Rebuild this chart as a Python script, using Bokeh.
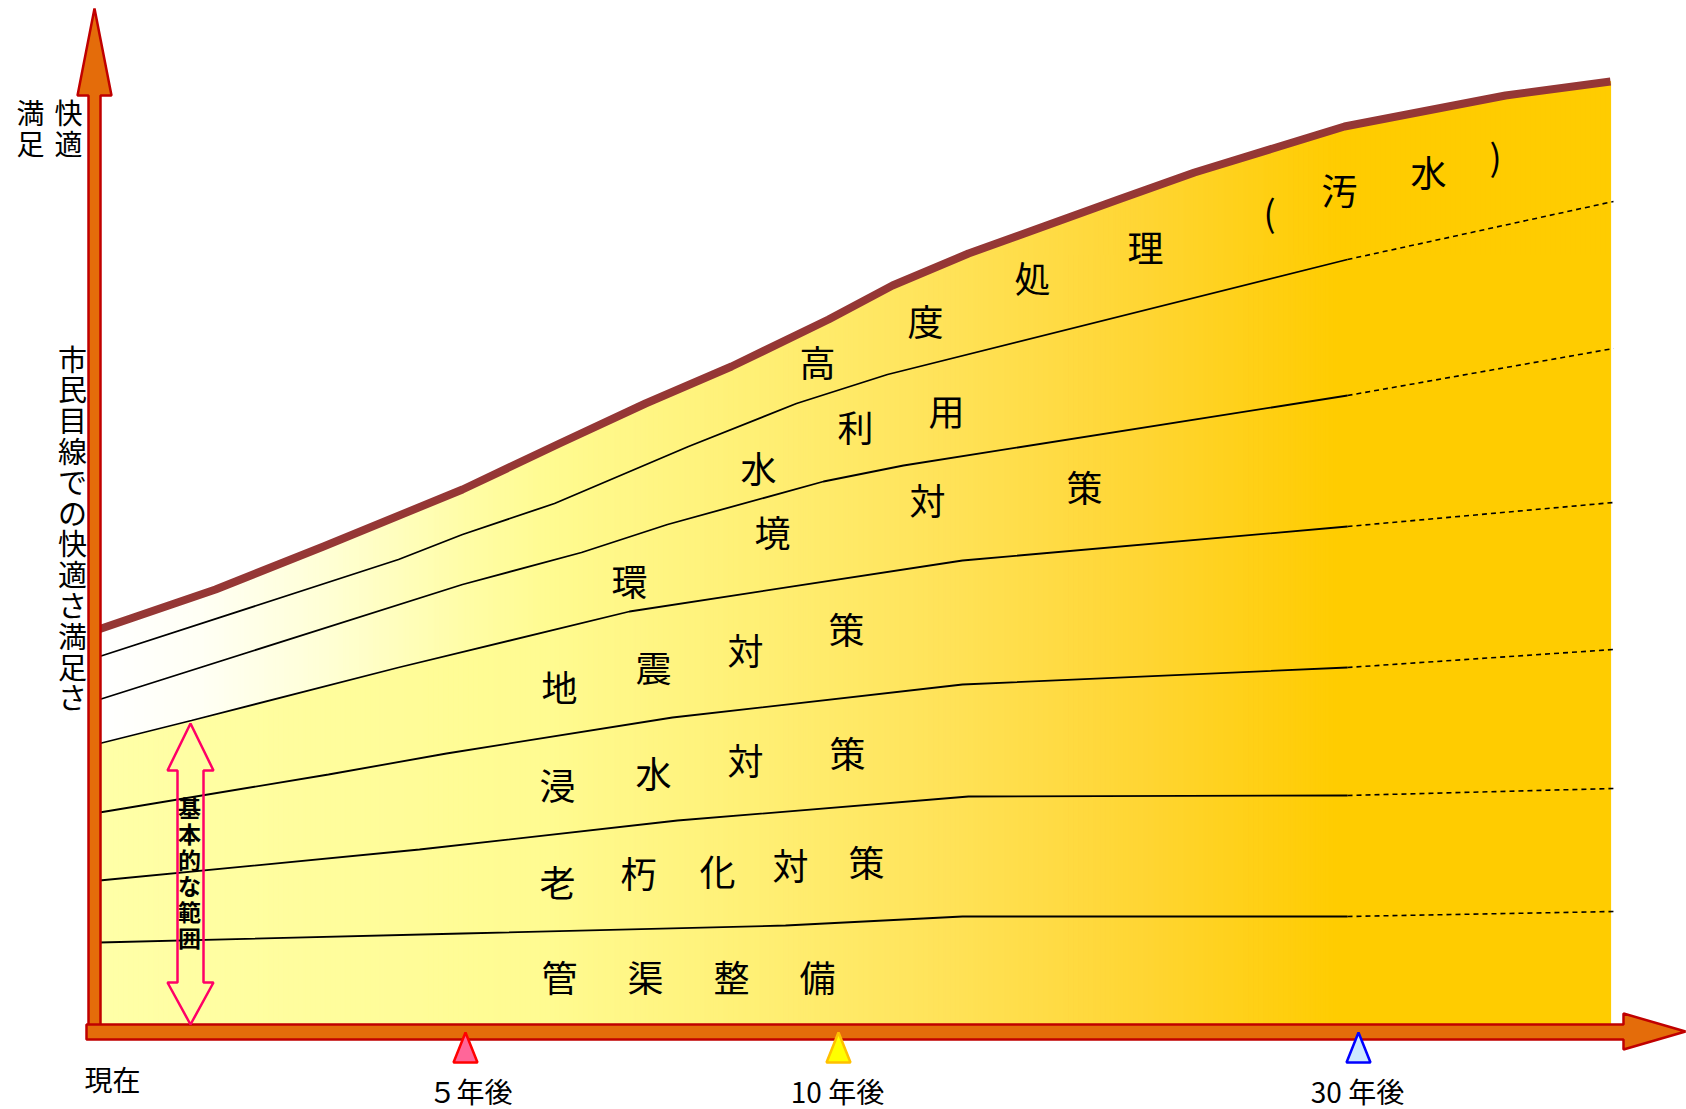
import numpy as np
from bokeh.plotting import figure
from bokeh.models import Range1d
from bokeh.embed import file_html
from bokeh.resources import INLINE
from bokeh.core.properties import value

W, H = 1686, 1109
FONT = "Noto Sans CJK JP"

# ---------------- data: boundary curves (canvas units, y grows downward) -------------
top_x = [92, 215, 323, 462, 559, 645, 731, 828, 892, 968, 1118, 1194, 1344, 1505, 1610]
top_y = [631, 589, 546, 489, 443, 403, 366, 319, 285, 253, 199, 172, 126, 95, 81]

line1_x = [99, 398, 462, 554, 688, 796, 887, 1347, 1613]
line1_y = [656, 559, 534, 503, 446, 403, 374, 259, 201]
line2_x = [99, 462, 581, 667, 823, 903, 1347, 1613]
line2_y = [699, 584, 552, 524, 481, 465, 395, 348]
line3_x = [99, 191, 398, 629, 962, 1347, 1613]
line3_y = [743, 720, 667, 611, 560, 526, 502]
line4_x = [99, 328, 446, 672, 962, 1347, 1613]
line4_y = [812, 774, 753, 717, 684, 667, 649]
line5_x = [99, 419, 677, 968, 1347, 1613]
line5_y = [880, 849, 820, 796, 795, 788]
line6_x = [99, 462, 785, 962, 1347, 1613]
line6_y = [942, 933, 925, 916, 916, 911]
band_lines = [(line1_x, line1_y), (line2_x, line2_y), (line3_x, line3_y),
              (line4_x, line4_y), (line5_x, line5_y), (line6_x, line6_y)]

time_ticks = ["現在", "５年後", "10 年後", "30 年後"]
band_names = ["高度処理(汚水)", "水利用", "環境対策", "地震対策", "浸水対策", "老朽化対策", "管渠整備"]

# ---------------- layout constants ----------------
X0, X1 = 99, 1610       # fill extent
BASE = 1024             # bottom of fill
SOLID_END = 1347

p = figure(width=W, height=H, x_range=Range1d(0, W), y_range=Range1d(H, 0),
           output_backend="svg", toolbar_location=None, min_border=0,
           x_axis_type=None, y_axis_type=None)
p.grid.visible = False
p.outline_line_color = None
p.background_fill_color = "white"
p.border_fill_color = "white"

# ---------------- gradient fill ----------------
def interp_color(x, stops):
    sx = [s[0] for s in stops]
    r = np.interp(x, sx, [s[1][0] for s in stops])
    g = np.interp(x, sx, [s[1][1] for s in stops])
    b = np.interp(x, sx, [s[1][2] for s in stops])
    return "#%02x%02x%02x" % (int(round(r)), int(round(g)), int(round(b)))

lower_stops = [(99, (255, 255, 168)), (550, (255, 251, 145)), (750, (255, 240, 118)),
               (950, (255, 226, 88)), (1150, (255, 213, 50)), (1340, (255, 204, 0)),
               (1700, (255, 204, 0))]
upper_stops = [(99, (255, 255, 255)), (200, (255, 255, 245)), (320, (255, 255, 215)),
               (470, (255, 253, 165)), (550, (255, 251, 145)), (750, (255, 240, 118)),
               (950, (255, 226, 88)), (1150, (255, 213, 50)), (1340, (255, 204, 0)),
               (1700, (255, 204, 0))]

edges = np.append(np.arange(X0, X1, 5), X1).astype(float)
xs_l, ys_l, cs = [], [], []
for i in range(len(edges) - 1):
    a, b = edges[i], edges[i + 1]
    m = 0.5 * (a + b)
    ya_top, yb_top = np.interp([a, b], top_x, top_y)
    ya_mid, yb_mid = np.interp([a, b], line3_x, line3_y)
    xs_l.append([a, b, b, a]); ys_l.append([BASE, BASE, yb_mid, ya_mid])
    cs.append(interp_color(m, lower_stops))
    xs_l.append([a, b, b, a]); ys_l.append([ya_mid, yb_mid, yb_top, ya_top])
    cs.append(interp_color(m, upper_stops))
p.patches(xs_l, ys_l, fill_color=cs, line_color=cs, line_width=1.2)

# ---------------- band lines ----------------
for lx, ly in band_lines:
    lx = np.array(lx, float); ly = np.array(ly, float)
    solid = lx <= SOLID_END
    p.line(lx[solid], ly[solid], line_color="black", line_width=1.8)
    p.line(lx[-2:], ly[-2:], line_color="black", line_width=1.6, line_dash="5 4")

# top (brown) line
p.line(top_x, top_y, line_color="#953735", line_width=8, line_join="round")

# ---------------- axes arrows ----------------
vx = [88, 100, 100, 111, 94, 77, 88]
vy = [1038, 1038, 95, 95, 8, 95, 95]
p.patch(vx, vy, fill_color="#E46C0A", line_color="#C00000", line_width=2.5)
hx = [86, 1623, 1623, 1685, 1623, 1623, 86]
hy = [1024, 1024, 1013, 1031, 1049, 1039, 1039]
p.patch(hx, hy, fill_color="#E46C0A", line_color="#C00000", line_width=2.5)

# ---------------- time markers ----------------
tick_x = [465, 838, 1358]
tick_fill = ["#FF6699", "#FFFF00", "#CCE8FF"]
tick_line = ["#FF0000", "#FFC000", "#0000FF"]
for tx, fc, lc in zip(tick_x, tick_fill, tick_line):
    p.patch([tx - 12, tx, tx + 12], [1062, 1032, 1062], fill_color=fc, line_color=lc, line_width=2.5)

p.text(x=[112, 470, 837, 1357], y=[1078, 1090, 1090, 1090], text=time_ticks,
       text_font=value(FONT), text_font_size="28px", text_align="center",
       text_baseline="middle", text_color="black")

# ---------------- left axis labels ----------------
p.text(x=[30, 30, 68, 68], y=[111, 142, 111, 142], text=["満", "足", "快", "適"],
       text_font=value(FONT), text_font_size="28px", text_align="center",
       text_baseline="middle", text_color="black")
vt = list("市民目線での快適さ満足さ")
p.text(x=[72] * len(vt), y=[357 + 30.8 * i for i in range(len(vt))], text=vt,
       text_font=value(FONT), text_font_size="29px", text_align="center",
       text_baseline="middle", text_color="black")

# ---------------- basic range double arrow ----------------
ax_ = [190, 213, 203, 203, 213, 190, 167, 177, 177, 167, 190]
ay_ = [723, 770, 770, 982, 982, 1024, 982, 982, 770, 770, 723]
p.patch(ax_, ay_, fill_color=None, line_color="#FF0066", line_width=2.5)
bt = list("基本的な範囲")
p.text(x=[189] * len(bt), y=[806 + 26 * i for i in range(len(bt))], text=bt,
       text_font=value(FONT), text_font_size="23px", text_font_style="bold",
       text_align="center", text_baseline="middle", text_color="black")

# ---------------- band labels ----------------
chars = [c for name in band_names for c in name]
cx = [817, 925, 1032, 1145, 1269, 1339, 1428, 1495,
      758, 855, 946,
      629, 772, 927, 1084,
      559, 653, 745, 846,
      557, 638, 717, 790, 866,
      557, 653, 745, 847,
      559, 645, 731, 817]
cy = [360, 319, 276, 245, 210, 188, 170, 154,
      466, 425, 409,
      579, 530, 498, 485,
      685, 665, 648, 627,
      783, 771, 758, 751,
      880, 871, 869, 863, 860,
      975, 975, 975, 975]
# band order in chars: 高度処理(汚水), 水利用, 環境対策, 地震対策, 浸水対策, 老朽化対策, 管渠整備
cx = cx[:19] + [557, 653, 745, 847] + [557, 638, 717, 790, 866] + cx[28:]
cy = cy[:19] + [783, 771, 758, 751] + [880, 871, 869, 863, 860] + cy[28:]
p.text(x=cx, y=cy, text=chars, text_font=value(FONT), text_font_size="36px",
       text_align="center", text_baseline="middle", text_color="black")

open("out.html", "w").write(file_html(p, INLINE))
